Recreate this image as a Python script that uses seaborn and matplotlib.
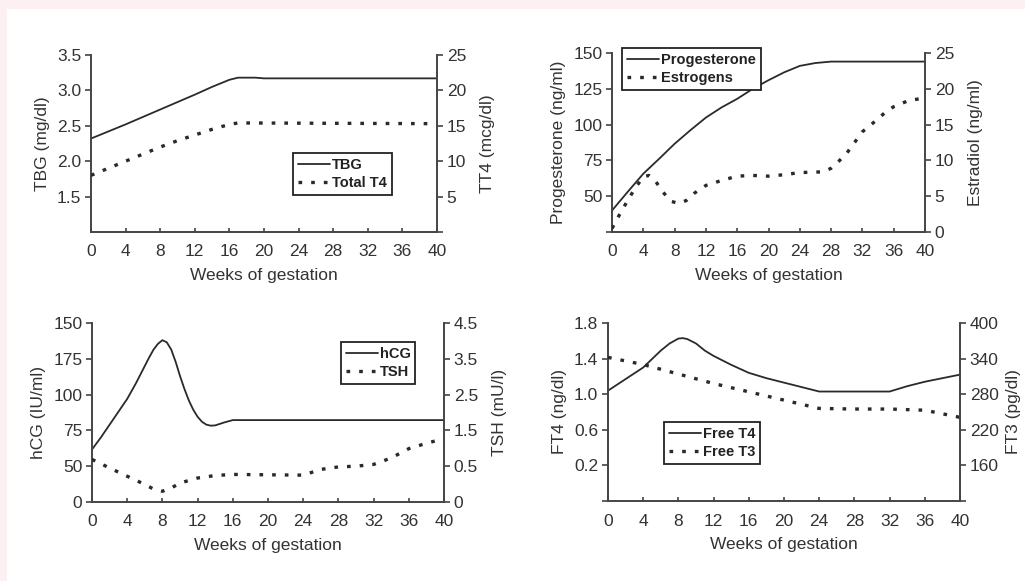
import pandas as pd
import seaborn as sns
import matplotlib.pyplot as plt
from matplotlib.patches import Rectangle

# ---- data ----
# panel 1: TBG / total T4
tbg_weeks = [0, 4, 8, 12, 14, 16, 17, 19, 20, 40]
tbg_vals = [2.32, 2.52, 2.73, 2.94, 3.05, 3.15, 3.18, 3.18, 3.17, 3.17]
tt4_weeks = [0, 2, 4, 6, 8, 10, 12, 14, 16, 17, 18, 40]
tt4_vals = [8.0, 9.0, 10.0, 11.0, 12.0, 12.9, 13.7, 14.5, 15.2, 15.4, 15.4, 15.3]

# panel 2: progesterone / estrogens
prog_weeks = [0, 2, 4, 6, 8, 10, 12, 14, 16, 18, 20, 22, 24, 26, 28, 30, 40]
prog_vals = [40, 53, 65.7, 76, 86.6, 96, 104.9, 112, 118, 125, 131, 136.5, 141, 143, 144, 144, 144]
estr_weeks = [0, 1, 2, 3, 4, 4.7, 5.5, 6.5, 7.5, 8.5, 9.5, 10.5, 12, 14, 16, 18, 20, 22,
              24, 27, 28, 29, 30, 31, 32, 33, 34, 35, 36, 38, 40]
estr_vals = [0.5, 2.5, 4.4, 6.2, 7.7, 7.9, 7.2, 5.6, 4.3, 4.0, 4.4, 5.4, 6.5, 7.2, 7.8, 7.9, 7.8, 8.0,
             8.3, 8.4, 8.9, 9.9, 11.0, 12.5, 14.0, 14.9, 15.8, 16.8, 17.5, 18.4, 18.7]

# panel 3: hCG / TSH (axis units of the original, whose bottom tick is labelled 0)
hcg_weeks = [0, 1, 2, 3, 4, 5, 6, 6.5, 7, 7.5, 8, 8.5, 9, 9.5, 10, 10.5, 11, 11.5, 12,
             12.5, 13, 13.5, 14, 15, 16, 40]
hcg_vals = [61.7, 70, 79, 88, 97, 108, 120, 126, 131.5, 135.5, 138, 136.5, 131.5, 123, 113,
            104, 96, 89.5, 84.5, 81, 79, 78.3, 78.5, 80.5, 82.2, 82.2]
tsh_weeks = [0, 2, 4, 6, 7, 8, 9, 10, 12, 14, 16, 20, 24, 26, 28, 30, 32, 34, 36, 38, 40]
tsh_vals = [0.69, 0.45, 0.22, -0.01, -0.14, -0.2, -0.11, 0.03, 0.17, 0.24, 0.27, 0.26, 0.25,
            0.41, 0.48, 0.5, 0.55, 0.73, 0.99, 1.14, 1.27]

# panel 4: free T4 / free T3
ft4_weeks = [0, 2, 4, 6, 7, 8, 8.5, 9, 10, 11, 12, 14, 16, 18, 20, 22, 24, 32, 34, 36, 38, 40]
ft4_vals = [1.04, 1.17, 1.3, 1.49, 1.57, 1.625, 1.63, 1.62, 1.57, 1.49, 1.43, 1.33, 1.24, 1.18,
            1.13, 1.08, 1.03, 1.03, 1.09, 1.14, 1.18, 1.22]
ft3_weeks = [0, 4, 8, 12, 16, 20, 24, 28, 32, 36, 40]
ft3_vals = [342, 330, 314, 298, 284, 270, 256, 255, 255, 253, 241]

week_ticks = list(range(0, 41, 4))

sns.set_theme(style="ticks")
plt.rcParams['font.family'] = ['Liberation Sans', 'DejaVu Sans']

INK = "#2a2a2a"
TXT = "#333333"
DOT = (0, (1.1, 2.7))


def style_axes(ax, ax2):
    for a in (ax, ax2):
        a.spines['top'].set_visible(False)
        for s in a.spines.values():
            s.set_linewidth(1.4)
            s.set_color("#444444")
    ax2.spines['left'].set_visible(False)
    ax2.spines['bottom'].set_visible(False)
    ax.spines['right'].set_visible(False)
    ax.set_xlim(0, 40)
    ax.set_xticks(week_ticks)
    ax.tick_params(axis='x', direction='in', length=3, width=1.2, colors="#444444",
                   labelcolor=TXT, labelsize=12.5, pad=9)
    ax.tick_params(axis='y', direction='out', length=4, width=1.2, colors="#444444",
                   labelcolor=TXT, labelsize=12.5, pad=3)
    ax2.tick_params(axis='y', direction='out', length=4, width=1.2, colors="#444444",
                    labelcolor=TXT, labelsize=12.5, pad=3)
    ax.set_xlabel("Weeks of gestation", fontsize=12.5, color=TXT, labelpad=6)


def panel(fig, rect, left, right, llab, rlab, leg_anchor, rpad=10):
    ax = fig.add_axes(rect)
    ax.patch.set_alpha(0)
    ax2 = ax.twinx()
    (lx, ly, lname), (rx, ry, rname) = left, right
    sns.lineplot(x=lx, y=ly, ax=ax, color=INK, linewidth=1.3, label=lname)
    sns.lineplot(x=rx, y=ry, ax=ax2, color=INK, linewidth=2.4, linestyle=DOT,
                 dash_capstyle='butt', label=rname)
    ax.set_ylabel(llab, fontsize=12.5, color=TXT, labelpad=5)
    ax2.set_ylabel(rlab, fontsize=12.5, color=TXT, labelpad=rpad)
    style_axes(ax, ax2)
    h1, l1 = ax.get_legend_handles_labels()
    h2, l2 = ax2.get_legend_handles_labels()
    if ax.get_legend():
        ax.get_legend().remove()
    leg = ax2.legend(h1 + h2, l1 + l2, loc='upper left', bbox_to_anchor=leg_anchor,
                     borderaxespad=0, fancybox=False, framealpha=1, edgecolor="#222222",
                     prop={'weight': 'bold', 'size': 10.5}, handlelength=2.2,
                     handletextpad=0.1, borderpad=0.35, labelspacing=0.25)
    leg.get_frame().set_linewidth(1.3)
    for t in leg.get_texts():
        t.set_color("#222222")
    return ax, ax2


W, H = 1025, 581


def rect(l, r, t, b):
    return [l / W, 1 - b / H, (r - l) / W, (b - t) / H]


fig = plt.figure(figsize=(10.25, 5.81), dpi=100, facecolor="#fdf0f3")
fig.patches.append(Rectangle((7 / W, 0), 1, 1 - 9 / H, transform=fig.transFigure,
                             facecolor="white", edgecolor="none", zorder=-1))

# top left
ax, ax2 = panel(fig, rect(91, 437, 55, 232),
                (tbg_weeks, tbg_vals, "TBG"), (tt4_weeks, tt4_vals, "Total T4"),
                "TBG (mg/dl)", "TT4 (mcg/dl)", (0.584, 0.446))
ax.set_ylim(1.0, 3.5)
ax.set_yticks([1.5, 2.0, 2.5, 3.0, 3.5])
ax.set_yticklabels(["1.5", "2.0", "2.5", "3.0", "3.5"])
ax2.set_ylim(0, 25)
ax2.set_yticks([0, 5, 10, 15, 20, 25])
ax2.set_yticklabels(["", "5", "10", "15", "20", "25"])

# top right
ax, ax2 = panel(fig, rect(612, 925, 53, 232),
                (prog_weeks, prog_vals, "Progesterone"), (estr_weeks, estr_vals, "Estrogens"),
                "Progesterone (ng/ml)", "Estradiol (ng/ml)", (0.032, 1.028))
ax.set_ylim(25, 150)
ax.set_yticks([25, 50, 75, 100, 125, 150])
ax.set_yticklabels(["", "50", "75", "100", "125", "150"])
ax2.set_ylim(0, 25)
ax2.set_yticks([0, 5, 10, 15, 20, 25])

# bottom left
ax, ax2 = panel(fig, rect(92, 444, 323, 502),
                (hcg_weeks, hcg_vals, "hCG"), (tsh_weeks, tsh_vals, "TSH"),
                "hCG (IU/ml)", "TSH (mU/l)", (0.707, 0.894))
ax.set_ylim(25, 150)
ax.set_yticks([25, 50, 75, 100, 125, 150])
ax.set_yticklabels(["0", "50", "75", "100", "175", "150"])
ax2.set_ylim(-0.5, 4.5)
ax2.set_yticks([-0.5, 0.5, 1.5, 2.5, 3.5, 4.5])
ax2.set_yticklabels(["0", "0.5", "1.5", "2.5", "3.5", "4.5"])

# bottom right
ax, ax2 = panel(fig, rect(608, 960, 323, 501),
                (ft4_weeks, ft4_vals, "Free T4"), (ft3_weeks, ft3_vals, "Free T3"),
                "FT4 (ng/dl)", "FT3 (pg/dl)", (0.159, 0.444), rpad=5)
ax.set_ylim(-0.2, 1.8)
ax.set_yticks([-0.2, 0.2, 0.6, 1.0, 1.4, 1.8])
ax.set_yticklabels(["", "0.2", "0.6", "1.0", "1.4", "1.8"])
ax2.set_ylim(100, 400)
ax2.set_yticks([100, 160, 220, 280, 340, 400])
ax2.set_yticklabels(["", "160", "220", "280", "340", "400"])

fig.savefig("out.png", dpi=100, facecolor=fig.get_facecolor())
